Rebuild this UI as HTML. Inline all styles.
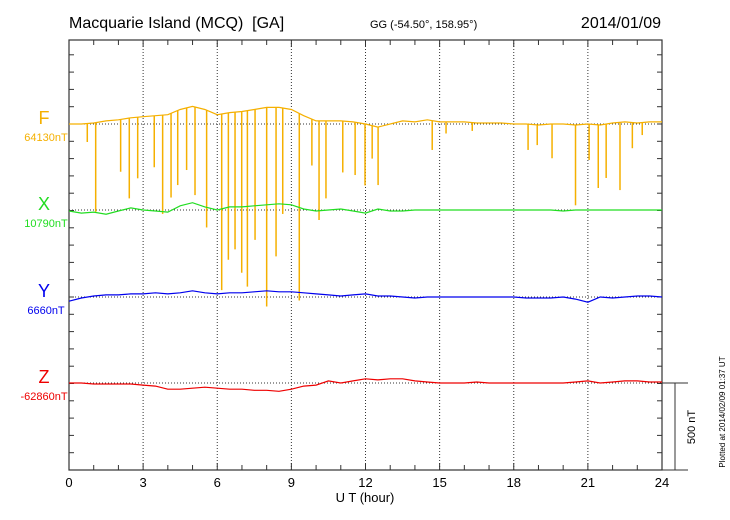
<!DOCTYPE html>
<html><head><meta charset="utf-8"><style>
body{margin:0;background:#fff}
svg{display:block;font-family:"Liberation Sans",sans-serif}
</style></head><body>
<svg id="c" width="730" height="520" viewBox="0 0 730 520">
<text x="69" y="28" font-size="16">Macquarie Island (MCQ)&#160;&#160;[GA]</text>
<text x="370" y="28" font-size="11">GG (-54.50°, 158.95°)</text>
<text x="661" y="28" font-size="16" text-anchor="end">2014/01/09</text>
<text x="44" y="124" font-size="18" fill="#f5b000" text-anchor="middle">F</text>
<text x="46" y="141" font-size="11" fill="#f5b000" text-anchor="middle">64130nT</text>
<text x="44" y="210" font-size="18" fill="#22dd22" text-anchor="middle">X</text>
<text x="46" y="227" font-size="11" fill="#22dd22" text-anchor="middle">10790nT</text>
<text x="44" y="297" font-size="18" fill="#0000ee" text-anchor="middle">Y</text>
<text x="46" y="314" font-size="11" fill="#0000ee" text-anchor="middle">6660nT</text>
<text x="44" y="383" font-size="18" fill="#ee0000" text-anchor="middle">Z</text>
<text x="44" y="400" font-size="11" fill="#ee0000" text-anchor="middle">-62860nT</text>
<text x="365" y="502" font-size="13" text-anchor="middle">U T (hour)</text>
<text transform="translate(695,427) rotate(-90)" font-size="11" text-anchor="middle">500 nT</text>
<text transform="translate(725,412) rotate(-90)" font-size="8" text-anchor="middle">Plotted at 2014/02/09 01:37 UT</text>
</svg>
<script>
const hours=[0,0.5,1,1.5,2,2.5,3,3.5,4,4.5,5,5.5,6,6.5,7,7.5,8,8.5,9,9.5,10,10.5,11,11.5,12,12.5,13,13.5,14,14.5,15,15.5,16,16.5,17,17.5,18,18.5,19,19.5,20,20.5,21,21.5,22,22.5,23,23.5,24];
const fVals=[0,0,6,18,24,36,42,48,54,84,102,84,54,66,72,84,96,96,84,48,18,18,18,12,0,-18,0,18,12,24,12,12,12,6,6,6,0,0,-6,0,0,-6,0,-6,6,12,6,12,12];
const xVals=[-6,-18,-12,-24,-6,12,0,-6,-12,24,42,18,0,18,18,24,30,36,30,6,-6,0,6,-6,-18,6,-6,-6,0,0,0,0,0,0,0,0,0,0,0,0,-6,0,0,0,0,0,0,0,0];
const yVals=[-24,-6,6,12,12,18,18,24,18,24,36,24,18,24,24,30,36,30,30,24,18,12,6,12,18,6,6,0,-6,0,0,0,0,0,0,0,0,-6,-6,-6,0,-12,-30,0,-6,0,6,6,0];
const zVals=[0,0,-6,-6,-6,-6,-12,-18,-36,-36,-30,-24,-30,-36,-36,-42,-42,-48,-36,-18,-12,12,0,12,24,18,24,24,12,6,0,0,0,6,0,0,0,0,0,0,0,6,12,0,6,12,12,6,6];
const spikeHours=[0.74,1.08,2.09,2.44,2.78,3.45,3.79,4.13,4.4,4.76,5.1,5.57,6.18,6.45,6.72,6.99,7.22,7.53,8.0,8.38,8.65,9.32,9.83,10.12,10.4,11.08,11.58,11.98,12.27,12.51,14.7,15.26,16.32,18.58,18.95,19.55,20.5,21.05,21.42,21.74,22.3,22.8,23.2];
const spikeDepth=[-104,-508,-276,-430,-314,-250,-520,-425,-353,-266,-411,-598,-960,-785,-725,-860,-940,-670,-1055,-765,-520,-1020,-240,-555,-430,-280,-295,-355,-200,-353,-150,-55,-40,-150,-122,-198,-470,-208,-370,-312,-382,-140,-64];
const xTicks=[0,3,6,9,12,15,18,21,24];

const svg=document.getElementById('c');
const NS='http://www.w3.org/2000/svg';
const L=69,R=662,T=40,B=470;
const sx=h=>L+(R-L)*h/24;
const pxPerNT=17.3/100;
const bases={F:124,X:210,Y:297,Z:383};
function mk(t,a){const e=document.createElementNS(NS,t);for(const k in a)e.setAttribute(k,a[k]);svg.appendChild(e);return e;}

for(const h of xTicks){ if(h>0&&h<24){const g=mk('line',{x1:sx(h),x2:sx(h),y1:T,y2:B,stroke:'#333','stroke-width':1,'stroke-dasharray':'1,2'});

}}
for(const k in bases){const g=mk('line',{x1:L,x2:R,y1:bases[k],y2:bases[k],stroke:'#333','stroke-width':1,'stroke-dasharray':'1,2'});

}

const box=mk('rect',{x:L,y:T,width:R-L,height:B-T,fill:'none',stroke:'#333','stroke-width':1.2});


for(let h=0;h<=24;h++){
  const big=h%3===0?7:5;
  const t1=mk('line',{x1:sx(h),x2:sx(h),y1:B,y2:B-big,stroke:'#333'});
  
  
  const t2=mk('line',{x1:sx(h),x2:sx(h),y1:T,y2:T+big,stroke:'#333'});
  
  
}
for(let y=B;y>=T;y-=17.3){
  const a=mk('line',{x1:L,x2:L+5,y1:y,y2:y,stroke:'#333'});
  
  
  const b=mk('line',{x1:R,x2:R-5,y1:y,y2:y,stroke:'#333'});
  
  
}
for(const h of xTicks){const t=mk('text',{x:sx(h),y:487,'font-size':13,'text-anchor':'middle'});t.textContent=h;

}

const s1=mk('line',{x1:R,x2:688,y1:383,y2:383,stroke:'#333'});


const s2=mk('line',{x1:675,x2:675,y1:383,y2:B,stroke:'#333'});


const s3=mk('line',{x1:R,x2:688,y1:B,y2:B,stroke:'#333'});



function series(vals,base,color,name){
  const pts=hours.map((h,i)=>sx(h).toFixed(1)+','+(base-vals[i]*pxPerNT).toFixed(1)).join(' ');
  const p=mk('polyline',{points:pts,fill:'none',stroke:color,'stroke-width':1.2});
  
  
}
function interp(h,vals){for(let i=0;i<hours.length-1;i++){if(h>=hours[i]&&h<=hours[i+1]){const f=(h-hours[i])/(hours[i+1]-hours[i]);return vals[i]+f*(vals[i+1]-vals[i]);}}return 0;}
for(let i=0;i<spikeHours.length;i++){
  const h=spikeHours[i];
  const top=bases.F-interp(h,fVals)*pxPerNT;
  const l=mk('line',{x1:sx(h),x2:sx(h),y1:top,y2:bases.F-spikeDepth[i]*pxPerNT,stroke:'#f5b000','stroke-width':1.5});
  
  
}
series(fVals,bases.F,'#f5b000','f-series');
series(xVals,bases.X,'#22dd22','x-series');
series(yVals,bases.Y,'#0000ee','y-series');
series(zVals,bases.Z,'#ee0000','z-series');
</script>
</body></html>
